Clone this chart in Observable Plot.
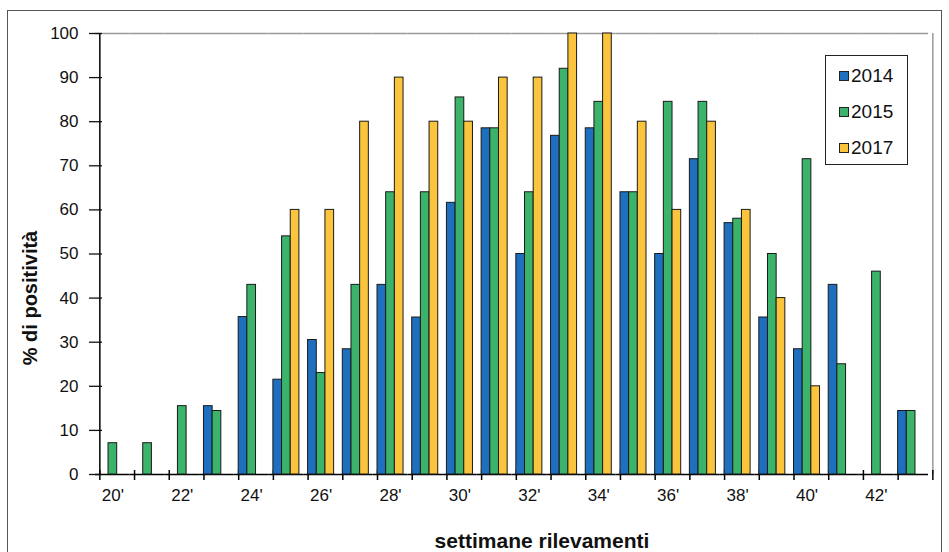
<!DOCTYPE html>
<html><head><meta charset="utf-8">
<script src="https://cdn.jsdelivr.net/npm/d3@7"></script>
<script src="https://cdn.jsdelivr.net/npm/@observablehq/plot@0.6"></script>
<style>
body{margin:0;background:#fff;}
#wrap{position:relative;width:949px;height:552px;overflow:hidden;font-family:Arial,"Liberation Sans",sans-serif;color:#111;}
#border{position:absolute;left:7px;top:10px;width:933px;height:600px;border:1px solid #555;}
#chart{position:absolute;left:0;top:0;}
#ytitle{position:absolute;left:30px;top:298px;transform:translate(-50%,-50%) rotate(-90deg);font-family:"Liberation Sans Narrow",Arial,sans-serif;font-weight:bold;font-size:20px;white-space:nowrap;}
#xtitle{position:absolute;left:542px;top:541px;transform:translate(-50%,-50%);font-family:"Liberation Sans Narrow",Arial,sans-serif;font-weight:bold;font-size:21px;white-space:nowrap;}
#legend{position:absolute;left:825px;top:55px;width:81px;height:108px;border:1px solid #222;background:#fff;}
.li{position:absolute;left:13px;display:flex;align-items:center;font-size:19px;line-height:20px;}
.sw{width:8px;height:8px;border:1px solid #222;margin-right:2px;}
</style></head><body>
<div id="wrap"><div id="border"></div><div id="chart"></div>
<div id="ytitle">% di positività</div>
<div id="xtitle">settimane rilevamenti</div>
<div id="legend"></div></div>
<script>
const weeks = [20,21,22,23,24,25,26,27,28,29,30,31,32,33,34,35,36,37,38,39,40,41,42,43];
const years = ["2014","2015","2017"];
const colors = ["#1f6fbf","#3cb36a","#fbc43d"];
const v2014 = [null,null,null,15.5,35.7,21.5,30.5,28.4,43,35.6,61.6,78.5,50,76.8,78.5,64,50,71.5,57,35.6,28.4,43,null,14.4];
const v2015 = [7.1,7.1,15.5,14.4,43,54,23,43,64,64,85.5,78.5,64,92,84.5,64,84.5,84.5,58,50,71.5,25,46,14.4];
const v2017 = [null,null,null,null,null,60,60,80,90,80,80,90,90,100,100,80,60,80,60,40,20,null,null,null];
const yTicks = [0,10,20,30,40,50,60,70,80,90,100];

const series = {"2014": v2014, "2015": v2015, "2017": v2017};
const rows = [];
for (const y of years) series[y].forEach((v, i) => { if (v != null) rows.push({week: weeks[i], year: y, value: v}); });

const W = 949, H = 552, mL = 95, mR = 21, mT = 33, mB = 78;
// one bar slot inside a week group; the group has half a slot of padding on each side
const step = (W - mL - mR) / weeks.length / (years.length + 1);
const first = years[0], last = years[years.length - 1];
const lastWeek = weeks[weeks.length - 1];

const chart = Plot.plot({
  width: W, height: H,
  marginTop: mT, marginBottom: mB, marginLeft: mL, marginRight: mR,
  style: {fontFamily: "Arial, 'Liberation Sans', sans-serif", fontSize: "17px", color: "#111", background: "transparent"},
  fx: {domain: weeks, padding: 0, round: false},
  x: {domain: years, paddingInner: 0, paddingOuter: 0.5, round: false, axis: null},
  y: {domain: [0, 100]},
  color: {domain: years, range: colors},
  marks: [
    Plot.ruleY([100], {stroke: "#9a9a9a", strokeWidth: 1.5}),
    Plot.ruleX([lastWeek], {fx: d => d, x: () => last, dx: 1.5 * step, stroke: "#9a9a9a", strokeWidth: 1.5}),
    Plot.ruleY([0], {stroke: "black", strokeWidth: 1.5}),
    Plot.ruleX([weeks[0]], {fx: d => d, x: () => first, dx: -step / 2, stroke: "black", strokeWidth: 1.5}),
    Plot.ruleX(weeks, {fx: d => d, x: () => first, dx: -step / 2, y1: 0, y2: 0, insetTop: -4, insetBottom: -6, stroke: "black", strokeWidth: 1.5}),
    Plot.ruleX([lastWeek], {fx: d => d, x: () => last, dx: 1.5 * step, y1: 0, y2: 0, insetTop: -4, insetBottom: -6, stroke: "black", strokeWidth: 1.5}),
    Plot.barY(rows, {fx: "week", x: "year", y: "value", fill: "year", stroke: "#1a1a1a", strokeWidth: 1}),
    Plot.axisFx({anchor: "bottom", tickSize: 0, tickPadding: 14, label: null,
      tickFormat: d => d % 2 === 0 ? d + "'" : "",
      fontFamily: "'Liberation Sans Narrow', Arial, sans-serif", fontSize: 17}),
    Plot.axisY({ticks: yTicks, tickSize: 13, dx: 7, tickPadding: 11, label: null, fontSize: 17, strokeWidth: 1.3})
  ]
});
document.getElementById("chart").appendChild(chart);

const lg = document.getElementById("legend");
years.forEach((y, i) => {
  const d = document.createElement("div");
  d.className = "li";
  d.style.top = (10 + i * 36) + "px";
  d.innerHTML = `<span class="sw" style="background:${colors[i]}"></span><span>${y}</span>`;
  lg.appendChild(d);
});
</script>
</body></html>
